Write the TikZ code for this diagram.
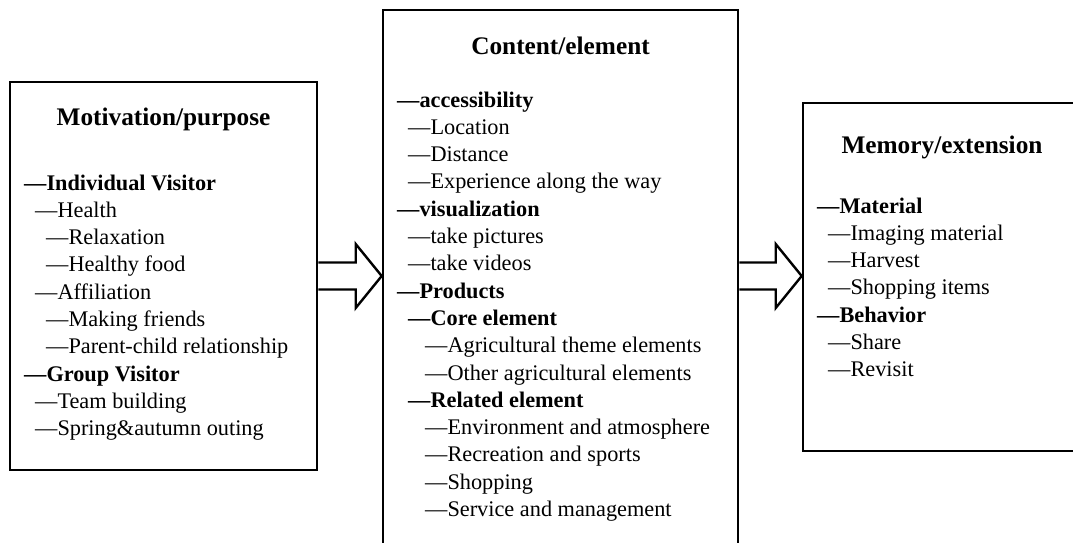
\documentclass[tikz,border=0pt]{standalone}
\usepackage{fontspec}
\setmainfont{Liberation Serif}
\usetikzlibrary{calc}

\begin{document}
\begin{tikzpicture}[x=1pt,y=-1pt,
  panel/.style={draw,line width=2.6pt,rectangle,inner sep=0},
  title/.style={font=\fontsize{25.3}{30}\selectfont\bfseries,anchor=base,inner sep=0},
  item/.style={font=\fontsize{22.3}{27}\selectfont,anchor=base west,inner sep=0},
  hollow/.style={draw,line width=2.4pt,miter limit=10}]
\useasboundingbox (0,0) rectangle (1073,542);
\clip (0,0) rectangle (1073,542);
% the three boxes
\node [panel,minimum width=307,minimum height=388] (mot) at (163.5,276) {};
\node [panel,minimum width=355,minimum height=560] (cont) at (560.5,290) {};
\node [panel,minimum width=278,minimum height=348] (mem) at (942,277) {};
\node [title] (mottitle) at (163.5,125) {Motivation/purpose};
\node [title] (conttitle) at (560.5,54.5) {Content/element};
\node [title] (memtitle) at (942,153) {Memory/extension};
  \foreach \txt/\ind/\fnt [count=\i] in {Individual Visitor/24/\bfseries,Health/35/\mdseries,
    Relaxation/46/\mdseries,Healthy food/46/\mdseries,Affiliation/35/\mdseries,
    Making friends/46/\mdseries,Parent-child relationship/46/\mdseries,
    Group Visitor/24/\bfseries,Team building/35/\mdseries,Spring\&autumn outing/35/\mdseries}
  {  \node [item] (mot\i) at (\ind,{190+27.3*(\i-1)}) {\fnt —\txt};}
  \foreach \txt/\ind/\fnt [count=\i] in {accessibility/397/\bfseries,Location/408/\mdseries,
    Distance/408/\mdseries,Experience along the way/408/\mdseries,visualization/397/\bfseries,
    take pictures/408/\mdseries,take videos/408/\mdseries,Products/397/\bfseries,
    Core element/408/\bfseries,Agricultural theme elements/425/\mdseries,
    Other agricultural elements/425/\mdseries,Related element/408/\bfseries,
    Environment and atmosphere/425/\mdseries,Recreation and sports/425/\mdseries,
    Shopping/425/\mdseries,Service and management/425/\mdseries}
  {  \node [item] (cont\i) at (\ind,{107+27.3*(\i-1)}) {\fnt —\txt};}
  \foreach \txt/\ind/\fnt [count=\i] in {Material/817/\bfseries,Imaging material/828/\mdseries,
    Harvest/828/\mdseries,Shopping items/828/\mdseries,Behavior/817/\bfseries,
    Share/828/\mdseries,Revisit/828/\mdseries}
  {  \node [item] (mem\i) at (\ind,{213+27.3*(\i-1)}) {\fnt —\txt};}
% hollow arrows between boxes
\coordinate (a1) at (mot.east);
\coordinate (b1) at (cont.west |- mot.east);
\coordinate (a2) at (cont.east |- mot.east);
\coordinate (b2) at (mem.west |- mot.east);
  \foreach \from/\to in {a1/b1,a2/b2}
  {  \draw [hollow] ($(\from)+(0,-13.5)$) -- ($(\to)+(-26,-13.5)$) -- ($(\to)+(-26,-32)$)
      -- (\to) -- ($(\to)+(-26,32)$) -- ($(\to)+(-26,13.5)$) -- ($(\from)+(0,13.5)$);}
\end{tikzpicture}
\end{document}
